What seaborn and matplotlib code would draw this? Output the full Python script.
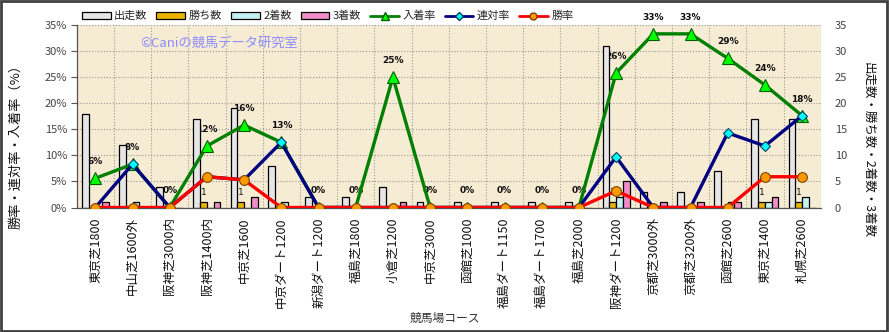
import numpy as np
import pandas as pd
import matplotlib
matplotlib.use("Agg")
import matplotlib.pyplot as plt
from matplotlib.patches import Patch, Rectangle
from matplotlib.lines import Line2D
import seaborn as sns

courses = ["東京芝1800", "中山芝1600外", "阪神芝3000内", "阪神芝1400内", "中京芝1600",
           "中京ダート1200", "新潟ダート1200", "福島芝1800", "小倉芝1200", "中京芝3000",
           "函館芝1000", "福島ダート1150", "福島ダート1700", "福島芝2000", "阪神ダート1200",
           "京都芝3000外", "京都芝3200外", "函館芝2600", "東京芝1400", "札幌芝2600"]
starts = [18, 12, 4, 17, 19, 8, 2, 2, 4, 1, 1, 1, 1, 1, 31, 3, 3, 7, 17, 17]
wins   = [0, 0, 0, 1, 1, 0, 0, 0, 0, 0, 0, 0, 0, 0, 1, 0, 0, 0, 1, 1]
second = [0, 1, 0, 0, 0, 1, 0, 0, 0, 0, 0, 0, 0, 0, 2, 0, 0, 1, 1, 2]
third  = [1, 0, 0, 1, 2, 0, 0, 0, 1, 0, 0, 0, 0, 0, 5, 1, 1, 1, 2, 0]
place_rate = [5.6, 8.3, 0, 11.8, 15.8, 12.5, 0, 0, 25.0, 0, 0, 0, 0, 0, 25.8, 33.3, 33.3, 28.6, 23.5, 17.6]
rentai_rate = [0, 8.3, 0, 5.9, 5.3, 12.5, 0, 0, 0, 0, 0, 0, 0, 0, 9.7, 0, 0, 14.3, 11.8, 17.6]
win_rate = [0, 0, 0, 5.9, 5.3, 0, 0, 0, 0, 0, 0, 0, 0, 0, 3.2, 0, 0, 0, 5.9, 5.9]
bar_series = ["出走数", "勝ち数", "2着数", "3着数"]
line_series = ["入着率", "連対率", "勝率"]

bar_colors = {"出走数": "#E6E6E6", "勝ち数": "#E8B400", "2着数": "#C4F2F2", "3着数": "#F08CC8"}

sns.set_theme(style="white")
plt.rcParams['font.family'] = ['Noto Sans CJK JP', 'DejaVu Sans']

W, H = 889, 332
fig = plt.figure(figsize=(W / 100, H / 100), dpi=100)
left, right, top, bottom = 76.7, 820.7, 25, 207.5
ax = fig.add_axes([left / W, 1 - bottom / H, (right - left) / W, (bottom - top) / H])
ax.set_facecolor("#F6EBD3")

df = pd.DataFrame({"course": courses * 4,
                   "series": sum([[s] * len(courses) for s in bar_series], []),
                   "count": starts + wins + second + third})
sns.barplot(data=df, x="course", y="count", hue="series", order=courses,
            hue_order=bar_series, palette=bar_colors, saturation=1, width=0.725,
            edgecolor="black", linewidth=0.9, legend=False, ax=ax, zorder=2)

x = np.arange(len(courses))
sns.lineplot(x=x, y=place_rate, ax=ax, color="#008000", lw=2.4, marker="^", markersize=9,
             markerfacecolor="#00FF00", markeredgecolor="#006000", markeredgewidth=0.8,
             sort=False, zorder=3)
sns.lineplot(x=x, y=rentai_rate, ax=ax, color="#000080", lw=2.4, marker="D", markersize=5.5,
             markerfacecolor="#00FFFF", markeredgecolor="#004060", markeredgewidth=0.8,
             sort=False, zorder=4)
sns.lineplot(x=x, y=win_rate, ax=ax, color="#FF0000", lw=2.4, marker="o", markersize=7,
             markerfacecolor="#FF9900", markeredgecolor="#804000", markeredgewidth=0.8,
             sort=False, zorder=5)

for xi, v in zip(x, place_rate):
    ax.annotate(f"{int(np.floor(v + 0.5))}%", (xi, v), xytext=(0, 12), textcoords="offset points",
                ha="center", va="center", fontsize=6.5, fontweight="bold",
                family=["DejaVu Sans"], color="#111111", zorder=1.5)
bw = 0.725 / 4
for xi, v in zip(x, wins):
    if v > 0:
        ax.annotate(f"{v}", (xi - bw / 2, v), xytext=(0, 7), textcoords="offset points",
                    ha="center", va="center", fontsize=6.5, family=["DejaVu Sans"],
                    color="#111111", zorder=1.5)

ax.set_xlim(-0.5, len(courses) - 0.5)
ax.set_ylim(0, 35)
ax.set_yticks(np.arange(0, 36, 5))
ax.set_yticklabels([f"{v}%" for v in range(0, 36, 5)])
ax.set_xticks(x)
ax.set_xticklabels(courses, rotation=90, fontsize=9, color="#111111")
ax.set_xticks(np.arange(-0.5, len(courses), 1), minor=True)
ax.tick_params(axis="x", which="both", length=0, pad=7)
ax.tick_params(axis="y", length=4, width=0.8, color="#555555", labelsize=8,
               labelcolor="#444444", pad=3, left=True)
ax.grid(True, axis="y", which="major", linestyle=":", color="#999999", lw=0.8)
ax.grid(True, axis="x", which="minor", linestyle=":", color="#999999", lw=0.8)
ax.grid(False, axis="x", which="major")
ax.set_axisbelow(True)
ax.set_xlabel("")
ax.set_ylabel("")
for s in ["top", "right"]:
    ax.spines[s].set_visible(False)
for s in ["left", "bottom"]:
    ax.spines[s].set_color("#555555")
    ax.spines[s].set_linewidth(0.9)

ax2 = ax.twinx()
ax2.set_ylim(0, 35)
ax2.set_yticks(np.arange(0, 36, 5))
ax2.tick_params(axis="y", length=0, labelsize=8, labelcolor="#444444", pad=10)
for s in ax2.spines.values():
    s.set_visible(False)
ax2.grid(False)

fig.text(16 / W, 1 - 143 / H, "勝率・連対率・入着率（%）", rotation=90, ha="center", va="center",
         fontsize=9.5, color="#111111")
fig.text(868 / W, 1 - 150 / H, "出走数・勝ち数・2着数・3着数", rotation=-90, ha="center", va="center",
         fontsize=9, color="#111111")
fig.text(445 / W, 1 - 318 / H, "競馬場コース", ha="center", va="center", fontsize=8.5, color="#333333")
ax.text(140 / W, 1 - 43 / H, "©Caniの競馬データ研究室", transform=fig.transFigure, ha="left",
        va="center", fontsize=9.5, color="#8C8CFF", zorder=1)

handles = [Patch(facecolor=bar_colors[s], edgecolor="black", linewidth=0.9) for s in bar_series]
handles += [
    Line2D([], [], color="#008000", lw=2, marker="^", markersize=6, markerfacecolor="#00FF00", markeredgecolor="#006000"),
    Line2D([], [], color="#000080", lw=2, marker="D", markersize=4, markerfacecolor="#00FFFF", markeredgecolor="#004060"),
    Line2D([], [], color="#FF0000", lw=2, marker="o", markersize=5, markerfacecolor="#FF9900", markeredgecolor="#804000"),
]
fig.legend(handles, bar_series + line_series, loc="center left", bbox_to_anchor=(82 / W, 1 - 16 / H),
           ncol=7, frameon=False, fontsize=8, handlelength=2.6, handleheight=0.6,
           columnspacing=0.8, handletextpad=0.3, borderaxespad=0, borderpad=0)

fig.add_artist(Rectangle((0.001, 0.002), 0.997, 0.995, transform=fig.transFigure,
                         fill=False, edgecolor="#404040", lw=2))

fig.savefig("out.png", dpi=100)
